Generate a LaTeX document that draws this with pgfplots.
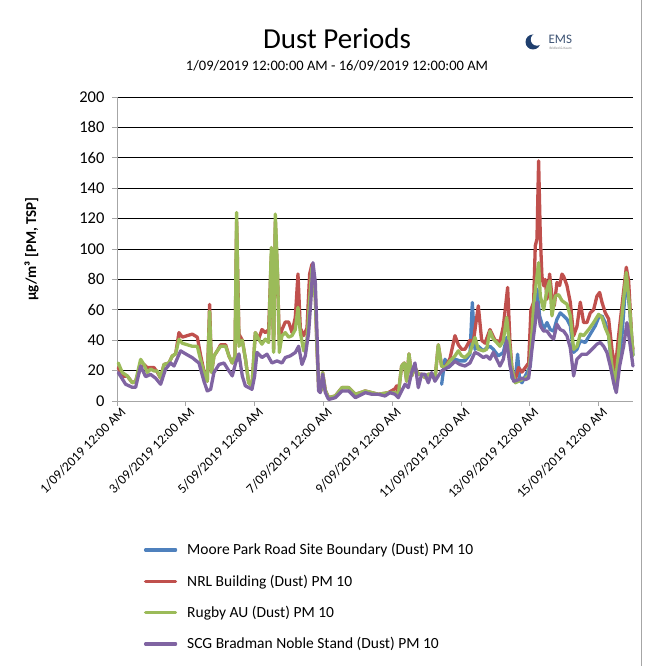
\documentclass[border=0pt]{standalone}
\usepackage{pgfplots}
\pgfplotsset{compat=1.18}
\usepackage{fontspec}
\setmainfont{Carlito}
\definecolor{cblue}{HTML}{4F81BD}
\definecolor{cred}{HTML}{C0504D}
\definecolor{cgreen}{HTML}{9BBB59}
\definecolor{cpurple}{HTML}{8064A2}
\definecolor{axgray}{HTML}{A6A6A6}
\definecolor{emsblue}{HTML}{1F3F6E}
\begin{document}
\begin{tikzpicture}
\useasboundingbox (0pt,0pt) rectangle (654pt,666pt);
\draw[axgray, line width=0.8pt] (641pt,0pt) -- (641pt,666pt);
\node[font=\fontsize{29}{34}\selectfont] at (337pt,627pt) {Dust Periods};
\node[font=\fontsize{14.5}{17}\selectfont] at (337pt,600pt) {1/09/2019 12:00:00 AM - 16/09/2019 12:00:00 AM};
% logo
\fill[emsblue] (533pt,624pt) circle (7.5pt);
\fill[white] (537pt,626.5pt) circle (6.2pt);
\node[font=\fontsize{13}{15}\selectfont, text=emsblue!70!gray, anchor=west] at (545pt,627pt) {EMS};
\node[font=\fontsize{3.5}{4}\selectfont, text=gray, anchor=west] at (546pt,618pt) {Bridled \& Kaaro};
\begin{axis}[
  at={(117pt,265pt)}, anchor=south west,
  width=516pt, height=304pt, scale only axis,
  xmin=1, xmax=16, ymin=0, ymax=200,
  axis x line*=bottom, axis y line*=left,
  axis line style={axgray, line width=0.9pt},
  xtick={1,3,5,7,9,11,13,15},
  xticklabels={1/09/2019 12:00 AM,3/09/2019 12:00 AM,5/09/2019 12:00 AM,7/09/2019 12:00 AM,9/09/2019 12:00 AM,11/09/2019 12:00 AM,13/09/2019 12:00 AM,15/09/2019 12:00 AM},
  x tick label style={rotate=45, anchor=north east, font=\fontsize{13.5}{15}\selectfont, inner sep=1pt, xshift=3pt, yshift=-1pt},
  ytick={0,20,...,200},
  y tick label style={font=\fontsize{16.5}{19}\selectfont, xshift=-4pt},
  /pgf/number format/assume math mode=true,
  tick style={axgray, line width=0.9pt},
  tick align=outside, major tick length=5pt,
  ymajorgrids, major grid style={black, line width=0.9pt},
  ylabel={\textbf{µg/m³ [PM, TSP]}},
  ylabel style={font=\fontsize{15}{18}\selectfont, at={(axis description cs:-0.145,0.5)}},
  legend style={at={(0.046,-0.455)}, anchor=north west, draw=none, fill=none,
    font=\fontsize{15.5}{18}\selectfont, row sep=14.5pt, cells={anchor=west}},
  legend image code/.code={\draw[#1, line width=3.3pt] (0pt,0pt) -- (30pt,0pt); \path (38pt,0pt);},
  every axis plot/.append style={line width=3.3pt, line join=round, line cap=round, mark=none},
  clip=false,
]
% Moore Park Road Site Boundary (blue)
\addplot[cblue] coordinates {
(10.437,11) (10.534,27.5) (10.631,22) (10.728,24) (10.825,27.5) (10.970,26.4) (11.115,26.4)
(11.261,30.8) (11.329,64.8) (11.406,34) (11.503,36) (11.648,33) (11.745,35) (11.842,36)
(11.939,34) (12.085,29.7) (12.230,31.9) (12.327,41.8) (12.424,29.7) (12.481,15) (12.578,14)
(12.646,30.8) (12.704,14) (12.772,12) (12.869,16.5) (13.014,23) (13.111,58) (13.208,73.6)
(13.285,56) (13.402,47) (13.499,51.6) (13.595,47) (13.692,46) (13.789,53.8) (13.886,58)
(13.983,56) (14.080,53.8) (14.177,49.5) (14.274,32) (14.371,34) (14.468,39.6) (14.613,38.5)
(14.758,44) (14.904,49.5) (15.001,55) (15.098,56) (15.194,51.6) (15.291,43) (15.388,21)
(15.485,7.7) (15.582,25) (15.679,43) (15.805,82) (15.902,60) (15.999,30)
};
\addlegendentry{Moore Park Road Site Boundary (Dust) PM 10}
% NRL Building (red)
\addplot[cred] coordinates {
(1.037,22) (1.154,16) (1.299,16.5) (1.444,12) (1.541,13) (1.687,22) (1.784,24) (1.880,22)
(1.977,22) (2.074,22) (2.171,19) (2.268,15) (2.365,24) (2.510,25) (2.607,29.6) (2.704,31)
(2.801,45) (2.898,42) (3.043,43) (3.189,44) (3.334,42) (3.431,30) (3.557,16.5) (3.625,13)
(3.692,63.6) (3.750,18.7) (3.818,29.6) (3.915,33) (4.012,37) (4.158,37) (4.254,29.6)
(4.351,25) (4.429,29.6) (4.477,118) (4.545,44) (4.642,40) (4.739,27)
(4.827,12) (4.924,10) (5.021,45) (5.118,40.7) (5.214,47) (5.311,45) (5.408,47) (5.486,95)
(5.554,34) (5.602,118) (5.670,80) (5.718,40) (5.796,47) (5.893,52) (5.990,52) (6.087,45)
(6.183,55) (6.261,83.6) (6.329,48) (6.426,43) (6.523,48) (6.600,83.6) (6.668,90) (6.765,70)
(6.813,36) (6.862,8.8) (6.939,7) (6.978,18.7) (7.056,7) (7.152,2.2) (7.346,3.3) (7.540,8.8)
(7.734,8.8) (7.928,4.4) (8.073,5.5) (8.218,6.6) (8.412,5.5)
(8.596,4.4) (8.887,5.5) (9.080,8) (9.130,10) (9.177,4.4) (9.274,23) (9.352,25) (9.420,13)
(9.487,31) (9.565,16.5) (9.662,22) (9.759,17.6) (9.856,17.6) (9.953,15.4) (10.049,17.6)
(10.146,17.6) (10.243,14.3) (10.340,37) (10.437,23) (10.534,22) (10.679,28) (10.825,43)
(10.922,37) (11.019,34) (11.115,34) (11.261,40) (11.358,39) (11.503,62.6) (11.600,40)
(11.697,38) (11.842,47) (11.988,40) (12.133,39) (12.230,49) (12.356,74.7) (12.424,38.5)
(12.481,22) (12.530,16.5) (12.578,14) (12.675,22) (12.772,19) (12.869,22) (12.966,25)
(13.033,60) (13.111,65) (13.159,102) (13.208,106.6) (13.256,158) (13.305,108.8) (13.353,82)
(13.402,75.8) (13.450,80) (13.499,67) (13.576,83.5) (13.644,69) (13.712,62.6) (13.789,78)
(13.867,76) (13.935,83.5) (13.983,82) (14.080,76) (14.177,65) (14.274,42.9) (14.371,49)
(14.468,65) (14.564,51.6) (14.661,51.6) (14.758,58) (14.855,60) (14.952,69) (15.030,71.4)
(15.098,65) (15.194,58) (15.291,54) (15.388,34) (15.485,21) (15.582,43) (15.679,62.6)
(15.805,88) (15.873,79) (15.969,38.5) (15.999,34)
};
\addlegendentry{NRL Building (Dust) PM 10}
% Rugby AU (green)
\addplot[cgreen] coordinates {
(1.037,25) (1.154,18.7) (1.299,16.5) (1.444,12) (1.541,13) (1.687,27.4) (1.784,24) (1.880,18.7)
(1.977,21) (2.074,19.8) (2.171,19.8) (2.268,15) (2.365,24) (2.510,25) (2.607,29.6) (2.704,31)
(2.801,40.6) (2.898,38) (3.043,37) (3.189,36) (3.334,36) (3.431,27) (3.557,16.5) (3.625,13)
(3.692,59) (3.750,18.7) (3.818,29.6) (3.915,33) (4.012,36) (4.158,36) (4.254,29.6) (4.351,25)
(4.429,29.6) (4.477,124) (4.545,36) (4.642,40) (4.739,27)
(4.827,12) (4.924,10) (5.021,45) (5.118,40.7) (5.214,37.4) (5.311,40.7) (5.408,38.5)
(5.486,101) (5.554,32) (5.602,123) (5.670,82.5) (5.718,32) (5.796,43) (5.893,45) (5.990,42)
(6.087,43) (6.183,47) (6.261,61.6) (6.329,45) (6.426,33) (6.523,40.7) (6.600,67) (6.668,88)
(6.765,67) (6.813,34) (6.862,8.8) (6.939,7) (6.978,18.7) (7.056,7) (7.152,2.2) (7.346,3.3)
(7.540,8.8) (7.734,8.8) (7.928,4.4) (8.073,5.5) (8.218,6.6) (8.412,5.5)
(8.596,4.4) (8.887,5.5) (9.080,5.5) (9.177,4.4) (9.274,23) (9.352,25) (9.420,13) (9.487,31)
(9.565,16.5) (9.662,22) (9.759,17.6) (9.856,17.6) (9.953,15.4) (10.049,17.6) (10.146,17.6)
(10.243,14.3) (10.340,37) (10.437,23) (10.534,22) (10.679,26.4) (10.825,29.7) (10.922,33)
(11.019,29.7) (11.115,28.6) (11.261,31.9) (11.406,41.8) (11.503,34) (11.648,33) (11.745,34)
(11.842,46) (11.939,40.7) (12.036,38.5) (12.133,36) (12.230,39.6) (12.327,55) (12.424,34)
(12.481,21) (12.578,12) (12.675,13) (12.772,14) (12.869,15) (12.966,17) (13.033,34)
(13.111,62.6) (13.208,82) (13.256,91) (13.305,69) (13.402,60) (13.499,73.6) (13.576,79)
(13.644,56) (13.741,69) (13.838,70) (13.935,66) (14.080,63.7) (14.177,56) (14.274,34)
(14.371,36) (14.468,44) (14.564,43) (14.710,47) (14.855,51.6) (15.001,57) (15.098,55)
(15.194,48) (15.291,43) (15.388,23) (15.485,12) (15.582,32) (15.679,56) (15.805,84.6)
(15.902,62) (15.999,30)
};
\addlegendentry{Rugby AU (Dust) PM 10}
% SCG Bradman Noble Stand (purple)
\addplot[cpurple] coordinates {
(1.037,18.7) (1.251,11) (1.444,9) (1.541,9) (1.687,23) (1.832,16) (1.977,17.5) (2.123,15)
(2.268,11) (2.413,21) (2.559,25) (2.656,23) (2.849,33) (2.995,31) (3.189,28.5) (3.382,25)
(3.528,13) (3.625,6.6) (3.722,7.7) (3.818,18.7) (3.964,24) (4.109,25) (4.254,19.8)
(4.351,16.5) (4.448,25) (4.545,31) (4.642,16.5) (4.730,10)
(4.924,7.7) (5.001,16.5) (5.069,32) (5.214,28.6) (5.360,30.8) (5.505,25) (5.651,26.4)
(5.796,25) (5.893,28.6) (6.038,29.7) (6.183,31.9) (6.280,36) (6.377,24) (6.474,29.7)
(6.571,45) (6.639,67) (6.697,91) (6.765,78) (6.813,45) (6.862,6.6) (6.910,5.5) (6.978,17.6)
(7.056,5.5) (7.152,1) (7.346,2.2) (7.540,6.6) (7.734,6.6) (7.928,2.2) (8.025,3.3) (8.218,5.5)
(8.412,4.4)
(8.596,4.4) (8.790,3.3) (8.935,5.5) (9.080,4.4) (9.177,2.2) (9.274,6.6) (9.371,11) (9.468,8.8)
(9.565,18.7) (9.662,25) (9.759,8.8) (9.856,17.6) (9.953,17.6) (10.049,12) (10.146,18.7)
(10.243,13) (10.340,16.5) (10.437,19.8) (10.534,21) (10.679,23) (10.825,26) (10.970,24)
(11.115,23) (11.261,25) (11.406,32) (11.503,31) (11.648,28.6) (11.745,29.7) (11.842,27.5)
(11.939,32) (12.036,27.5) (12.133,23) (12.230,27.5) (12.327,39.6) (12.424,23)
(12.530,13) (12.675,14) (12.772,15) (12.869,14) (12.966,15) (13.063,34) (13.159,51.6)
(13.208,65) (13.305,49.5) (13.402,46) (13.499,46) (13.595,42.9) (13.692,40.7) (13.789,50.5)
(13.886,47) (13.983,46) (14.080,42.9) (14.177,35) (14.274,16.5) (14.371,27.5) (14.516,30.8)
(14.661,30.8) (14.807,34) (14.952,37.4) (15.049,38.5) (15.146,36) (15.243,31.9) (15.340,23)
(15.437,12) (15.514,5.5) (15.611,23) (15.727,36) (15.824,51.6) (15.921,36) (15.999,23)
};
\addlegendentry{SCG Bradman Noble Stand (Dust) PM 10}
\end{axis}
\end{tikzpicture}
\end{document}
